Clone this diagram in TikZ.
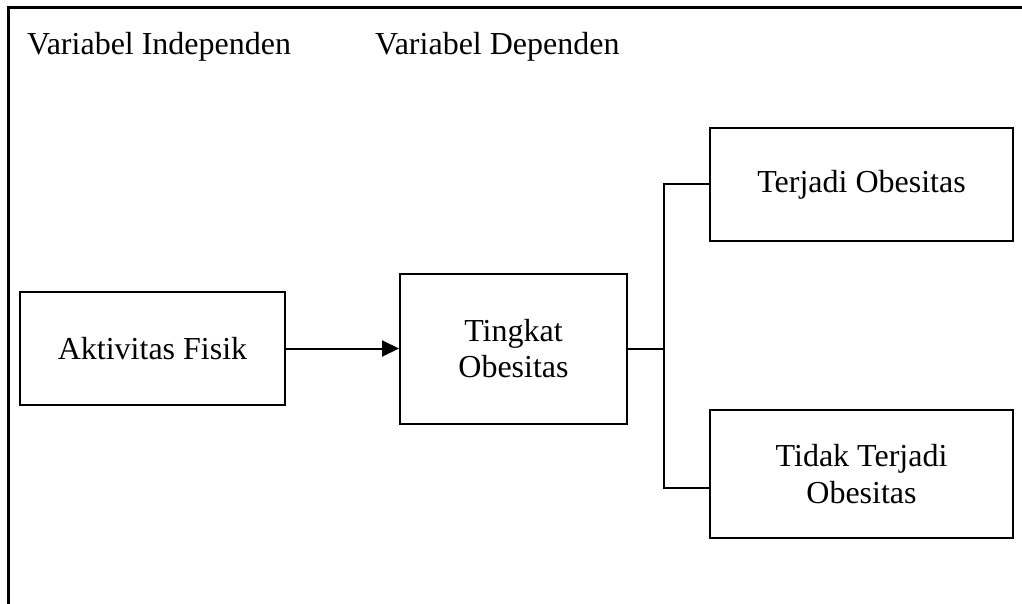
\documentclass[tikz,border=0pt]{standalone}
\usepackage{fontspec}
\setmainfont{Liberation Serif}
\usetikzlibrary{positioning, arrows.meta}

\begin{document}
\begin{tikzpicture}[
        x=1pt, y=-1pt,
        node distance=113pt,
        box/.style={draw, rectangle, line width=2pt, align=center, font=\fontsize{32}{36.5}\selectfont},
        heading/.style={anchor=base west, inner sep=0pt, font=\fontsize{32}{36.5}\selectfont},
        arrow/.style={-{Triangle[length=17pt, width=16pt]}, line width=2pt},
        link/.style={line width=2pt}
    ]
    \useasboundingbox (0,0) rectangle (1022,604);

    % open frame round the whole scheme
    \draw[line width=3pt] (8,604) -- (8,8) -- (1022,8);

    \node[heading] (Indep) at (27,55) {Variabel Independen};
    \node[heading] (Dep) at (375,55) {Variabel Dependen};

    \node[box, minimum width=265pt, minimum height=113pt] (Aktivitas) at (152.5,348.5) {Aktivitas Fisik};
    \node[box, minimum width=227pt, minimum height=150pt, right=of Aktivitas] (Tingkat) {Tingkat\\Obesitas};

    \node[box, minimum width=303pt, minimum height=113pt] (Terjadi) at (861.5,184.5) {Terjadi Obesitas};
    \node[box, minimum width=303pt, minimum height=128pt] (Tidak) at (861.5,474) {Tidak Terjadi\\Obesitas};

    \coordinate (Split) at ([xshift=36pt]Tingkat.east);
    \coordinate (TidakIn) at ([yshift=-14pt]Tidak.west);

    \draw[arrow] (Aktivitas) -- (Tingkat);
    \draw[link] (Tingkat.east) -- (Split);
    \draw[link] (Split) |- (Terjadi.west);
    \draw[link] (Split) |- (TidakIn);

\end{tikzpicture}
\end{document}
